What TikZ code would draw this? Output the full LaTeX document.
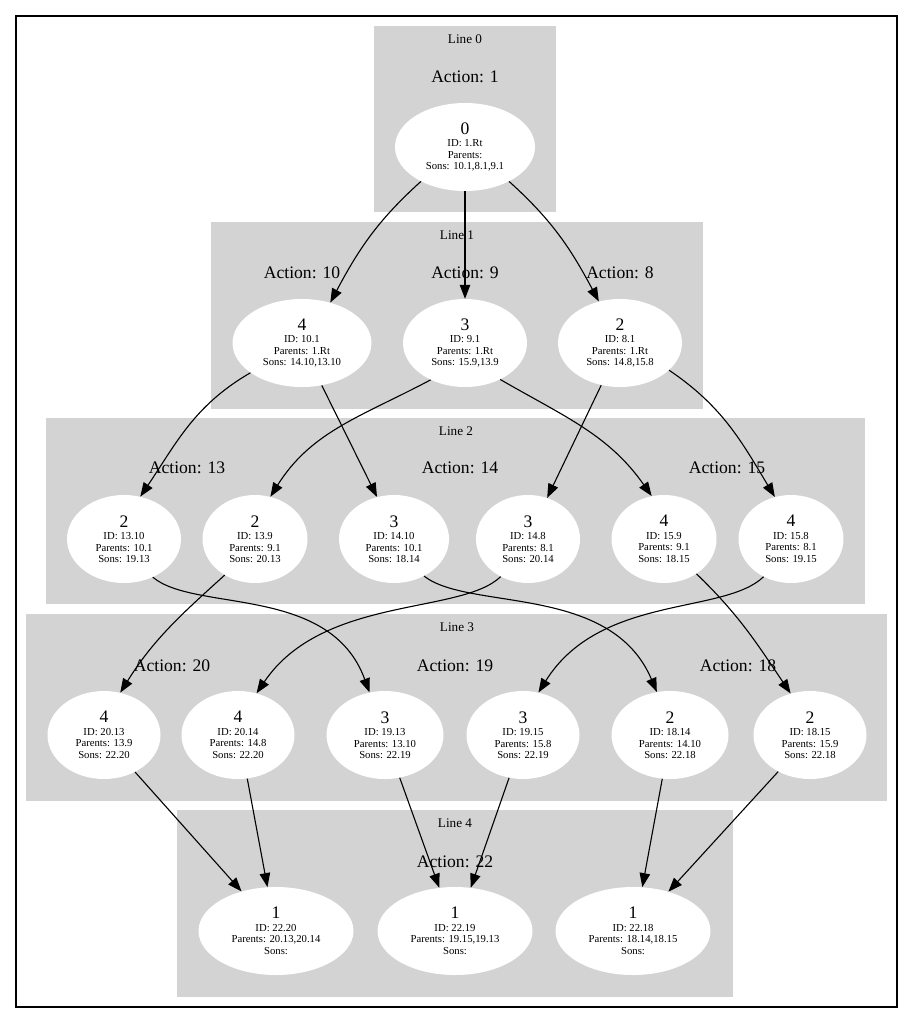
\documentclass[tikz,border=0pt]{standalone}
\usepackage{fontspec}
\setmainfont{Liberation Serif}
\usetikzlibrary{shapes.geometric}
\usetikzlibrary{arrows.meta}

\definecolor{clustergray}{HTML}{D3D3D3}
\newcommand{\val}[1]{{\fontsize{17.6}{18}\selectfont #1}\\[1pt]}

\begin{document}
\begin{tikzpicture} [x=1pt, y=1pt,
        lane/.style={fill=clustergray, draw=none},
        linelbl/.style={font=\fontsize{13.2}{14}\selectfont},
        actionlbl/.style={font=\fontsize{17.6}{20}\selectfont},
        statenode/.style={ellipse, fill=white, inner sep=0pt, minimum height=88pt,
            align=center, font=\fontsize{10.7}{11.5}\selectfont},
        link/.style={-{Triangle[length=14pt,width=10.5pt]}, line width=1.1pt}]
            \useasboundingbox (0,0) rectangle (913,-1023);
            \draw[line width=1.2pt] (16,-16) rectangle (897,-1007);

            \fill[lane] (374,-26) rectangle (556,-212);
            \fill[lane] (211,-222) rectangle (703,-409);
            \fill[lane] (46,-418) rectangle (865,-604);
            \fill[lane] (26,-614) rectangle (887,-801);
            \fill[lane] (177,-810) rectangle (733,-997);

            \node[linelbl] (line0) at (465,-39)  {Line 0};
            \node[linelbl] (line1) at (457,-235) {Line 1};
            \node[linelbl] (line2) at (456,-431) {Line 2};
            \node[linelbl] (line3) at (457,-627) {Line 3};
            \node[linelbl] (line4) at (455,-823) {Line 4};

            \node[actionlbl] (act1)  at (465,-77)  {Action: 1};
            \node[actionlbl] (act10) at (302,-273) {Action: 10};
            \node[actionlbl] (act9)  at (465,-273) {Action: 9};
            \node[actionlbl] (act8)  at (620,-273) {Action: 8};
            \node[actionlbl] (act13) at (187,-468) {Action: 13};
            \node[actionlbl] (act14) at (460,-468) {Action: 14};
            \node[actionlbl] (act15) at (727,-468) {Action: 15};
            \node[actionlbl] (act20) at (172,-666) {Action: 20};
            \node[actionlbl] (act19) at (455,-666) {Action: 19};
            \node[actionlbl] (act18) at (738,-666) {Action: 18};
            \node[actionlbl] (act22) at (455,-862) {Action: 22};

            \node[statenode, minimum width=140pt] (n1) at (465,-147)
                {\val{0}ID: 1.Rt\\Parents:\\Sons: 10.1,8.1,9.1};

            \node[statenode, minimum width=139pt] (n10_1) at (302,-343)
                {\val{4}ID: 10.1\\Parents: 1.Rt\\Sons: 14.10,13.10};
            \node[statenode, minimum width=124pt] (n9_1) at (465,-343)
                {\val{3}ID: 9.1\\Parents: 1.Rt\\Sons: 15.9,13.9};
            \node[statenode, minimum width=124pt] (n8_1) at (620,-343)
                {\val{2}ID: 8.1\\Parents: 1.Rt\\Sons: 14.8,15.8};

            \node[statenode, minimum width=114pt] (n13_10) at (124,-539)
                {\val{2}ID: 13.10\\Parents: 10.1\\Sons: 19.13};
            \node[statenode, minimum width=105pt] (n13_9) at (255,-539)
                {\val{2}ID: 13.9\\Parents: 9.1\\Sons: 20.13};
            \node[statenode, minimum width=110pt] (n14_10) at (394,-539)
                {\val{3}ID: 14.10\\Parents: 10.1\\Sons: 18.14};
            \node[statenode, minimum width=104pt] (n14_8) at (528,-539)
                {\val{3}ID: 14.8\\Parents: 8.1\\Sons: 20.14};
            \node[statenode, minimum width=105pt] (n15_9) at (664,-539)
                {\val{4}ID: 15.9\\Parents: 9.1\\Sons: 18.15};
            \node[statenode, minimum width=105pt] (n15_8) at (791,-539)
                {\val{4}ID: 15.8\\Parents: 8.1\\Sons: 19.15};

            \node[statenode, minimum width=113pt] (n20_13) at (104,-735)
                {\val{4}ID: 20.13\\Parents: 13.9\\Sons: 22.20};
            \node[statenode, minimum width=113pt] (n20_14) at (238,-735)
                {\val{4}ID: 20.14\\Parents: 14.8\\Sons: 22.20};
            \node[statenode, minimum width=117pt] (n19_13) at (385,-735)
                {\val{3}ID: 19.13\\Parents: 13.10\\Sons: 22.19};
            \node[statenode, minimum width=113pt] (n19_15) at (523,-735)
                {\val{3}ID: 19.15\\Parents: 15.8\\Sons: 22.19};
            \node[statenode, minimum width=117pt] (n18_14) at (670,-735)
                {\val{2}ID: 18.14\\Parents: 14.10\\Sons: 22.18};
            \node[statenode, minimum width=113pt] (n18_15) at (810,-735)
                {\val{2}ID: 18.15\\Parents: 15.9\\Sons: 22.18};

            \node[statenode, minimum width=155pt] (n22_20) at (276,-931)
                {\val{1}ID: 22.20\\Parents: 20.13,20.14\\Sons:};
            \node[statenode, minimum width=155pt] (n22_19) at (455,-931)
                {\val{1}ID: 22.19\\Parents: 19.15,19.13\\Sons:};
            \node[statenode, minimum width=155pt] (n22_18) at (633,-931)
                {\val{1}ID: 22.18\\Parents: 18.14,18.15\\Sons:};

            \draw[link] (n1.-142) to[out=-138, in=62] (n10_1.55);
            \draw[link] (n1) -- (n9_1);
            \draw[link] (n1.-38) to[out=-42, in=118] (n8_1.117);

            \draw[link] (n10_1.-150) to[out=-150, in=56] (n13_10.69);
            \draw[link] (n10_1.-65) -- (n14_10.112);
            \draw[link] (n9_1.-133) to[out=-152, in=58] (n13_9.70);
            \draw[link] (n9_1.-46) to[out=-30, in=125] (n15_9.106);
            \draw[link] (n8_1.-114) -- (n14_8.65);
            \draw[link] (n8_1.-29) to[out=-34, in=121] (n15_8.111);

            \draw[link] (n13_10.-53) to[out=-40, in=110, out distance=55pt, in distance=115pt] (n19_13.110);
            \draw[link] (n13_9.-130) to[out=-138, in=58] (n20_13.69);
            \draw[link] (n14_10.-51) to[out=-38, in=113, out distance=57pt, in distance=118pt] (n18_14.107);
            \draw[link] (n14_8.-126) to[out=-136, in=56, out distance=55pt, in distance=118pt] (n20_14.66);
            \draw[link] (n15_9.-47) to[out=-44, in=124] (n18_15.115);
            \draw[link] (n15_8.-126) to[out=-136, in=58, out distance=55pt, in distance=116pt] (n19_15.70);

            \draw[link] (n20_13.-50) -- (n22_20.131);
            \draw[link] (n20_14.-78) -- (n22_20.101);
            \draw[link] (n19_13.-71) -- (n22_19.110);
            \draw[link] (n19_15.-108) -- (n22_19.70);
            \draw[link] (n18_14.-100) -- (n22_18.78);
            \draw[link] (n18_15.-131) -- (n22_18.48);
        \end{tikzpicture}
\end{document}
